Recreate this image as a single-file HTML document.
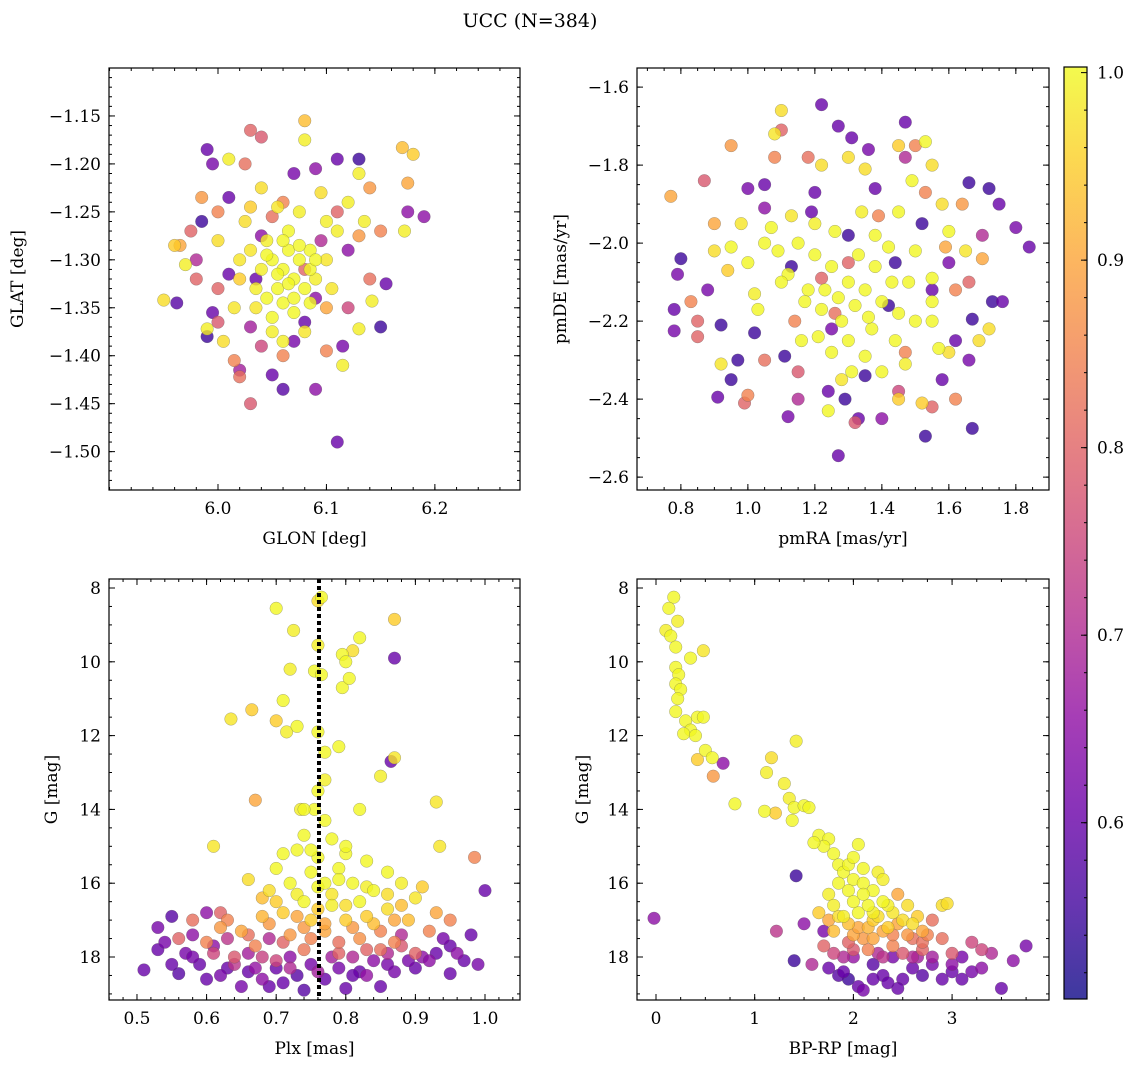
<!DOCTYPE html>
<html><head><meta charset="utf-8"><title>UCC (N=384)</title>
<style>
html,body{margin:0;padding:0;background:#fff;}
svg{display:block;font-family:"DejaVu Serif","Liberation Serif",serif;}
</style></head>
<body>
<svg id="fig" width="1136" height="1067" viewBox="0 0 1136 1067" xmlns="http://www.w3.org/2000/svg">
<rect width="1136" height="1067" fill="#fff"/>
<text x="530" y="27" font-size="19" text-anchor="middle">UCC (N=384)</text>
</svg>
<script>
// ---------- Panel 1: GLON vs GLAT ----------
const p1Glon=[5.99,5.995,6.01,5.985,5.99,5.995,5.962,6.13,6.11,6.07,6.09,6.15,6.155,6.11,6.09,6.05,6.06,6.02,6.115,6.175,6.19,6.08,6.035,6.04,6.095,6.12,6.01,6.03,6.07,6.09,
6.03,6.04,6.025,5.975,5.985,5.98,6.03,6.02,6.1,6.175,6.14,6.15,6.13,6.0,6.06,6.08,6.05,6.12,6.015,6.14,6.0,5.965,
6.08,6.08,6.17,6.18,5.95,5.96,5.97,5.99,6.005,6.01,6.13,6.12,6.135,6.142,6.13,6.115,6.172,
6.05,6.06,6.07,6.065,6.075,6.055,6.045,6.08,6.085,6.06,6.04,6.03,6.07,6.09,6.05,6.1,6.065,6.035,6.02,6.075,6.055,6.1,6.045,6.08,6.06,6.025,6.095,6.11,6.04,6.065,6.085,6.0,6.015,6.105,6.03,
6.055,6.07,6.045,6.085,6.06,6.035,6.09,6.075,6.05,6.02,6.1,6.0,6.11,5.98,6.04,6.06];
const p1Glat=[-1.185,-1.2,-1.235,-1.26,-1.38,-1.355,-1.345,-1.195,-1.195,-1.21,-1.205,-1.37,-1.325,-1.49,-1.435,-1.42,-1.435,-1.415,-1.39,-1.25,-1.255,-1.365,-1.32,-1.275,-1.28,-1.29,-1.315,-1.37,-1.385,-1.34,
-1.165,-1.172,-1.2,-1.27,-1.235,-1.32,-1.45,-1.422,-1.395,-1.22,-1.225,-1.27,-1.275,-1.33,-1.4,-1.31,-1.255,-1.35,-1.405,-1.32,-1.365,-1.285,
-1.155,-1.175,-1.183,-1.19,-1.342,-1.285,-1.305,-1.372,-1.385,-1.195,-1.21,-1.24,-1.26,-1.343,-1.372,-1.41,-1.27,
-1.3,-1.31,-1.32,-1.29,-1.3,-1.33,-1.28,-1.33,-1.29,-1.345,-1.31,-1.29,-1.355,-1.32,-1.36,-1.3,-1.27,-1.33,-1.3,-1.25,-1.245,-1.26,-1.34,-1.375,-1.385,-1.26,-1.23,-1.27,-1.225,-1.325,-1.31,-1.28,-1.35,-1.33,-1.245,
-1.315,-1.34,-1.295,-1.345,-1.28,-1.35,-1.3,-1.285,-1.375,-1.32,-1.35,-1.25,-1.25,-1.3,-1.39,-1.24];
const p1Prob=[.6,.62,.6,.55,.55,.6,.58,.55,.6,.62,.65,.55,.6,.6,.65,.6,.58,.68,.62,.65,.65,.6,.6,.65,.7,.65,.6,.68,.62,.65,
.8,.78,.82,.8,.88,.8,.78,.82,.85,.9,.88,.85,.88,.8,.85,.8,.82,.75,.85,.82,.78,.9,
.93,.99,.93,.95,.97,.95,.99,.99,.97,.99,.99,.99,.99,.99,.99,.99,.99,
1,1,1,1,1,1,.99,1,1,1,.99,.98,1,.99,1,.98,1,.99,.98,.99,.98,.99,1,.98,.99,.97,.97,.99,.97,1,1,.97,.98,.98,.95,
1,1,1,1,1,.98,1,1,.99,.95,.9,.85,.8,.7,.75,.85];

// ---------- Panel 2: pmRA vs pmDE ----------
const p2PmRA=[1.22,1.27,1.31,1.36,1.47,1.66,1.72,1.75,1.8,1.84,1.73,1.76,1.67,1.67,1.53,1.27,1.33,1.29,1.12,0.95,0.91,0.97,1.02,0.92,0.8,0.79,0.78,0.78,1.0,1.05,1.13,1.11,1.24,1.35,1.42,1.55,1.6,1.52,1.44,1.3,1.19,1.25,1.62,1.66,1.2,1.38,1.05,1.58,0.88,
0.77,0.87,0.83,0.85,0.99,1.0,1.15,1.22,1.26,1.32,1.45,1.55,1.62,1.66,1.59,1.64,1.7,1.5,1.18,1.1,0.95,1.47,1.05,1.3,1.39,1.14,1.53,
1.53,1.55,1.49,1.6,1.65,1.55,1.55,1.57,1.6,1.52,1.35,1.24,1.28,1.03,0.95,0.92,0.9,1.08,1.1,1.3,1.45,1.72,1.69,1.35,1.22,
1.15,1.2,1.25,1.3,1.35,1.4,1.45,1.18,1.22,1.28,1.33,1.38,1.42,1.48,1.12,1.07,1.0,1.02,1.3,1.37,1.44,1.5,1.26,1.2,1.34,1.45,1.5,1.16,1.1,1.4,1.25,0.98,1.05,1.23,1.32,
1.17,1.27,1.36,1.43,1.21,1.09,1.31,1.47,1.55,1.13,1.38,0.85,0.9,1.62,1.7,1.15,1.4,1.47,1.08,0.94,1.58,1.45];
const p2PmDE=[-1.645,-1.7,-1.73,-1.76,-1.69,-1.845,-1.86,-1.9,-1.96,-2.01,-2.15,-2.15,-2.195,-2.475,-2.495,-2.545,-2.45,-2.4,-2.445,-2.35,-2.395,-2.3,-2.23,-2.21,-2.04,-2.08,-2.17,-2.225,-1.86,-1.85,-2.06,-2.29,-2.38,-2.34,-2.16,-2.12,-2.05,-1.95,-2.05,-1.98,-1.92,-2.22,-2.25,-2.3,-1.87,-1.86,-1.91,-2.35,-2.12,
-1.88,-1.84,-2.15,-2.24,-2.41,-2.39,-2.33,-2.09,-2.18,-2.46,-2.38,-2.42,-2.4,-2.1,-2.01,-1.9,-2.04,-1.75,-1.78,-1.71,-1.75,-2.28,-2.3,-2.05,-1.93,-2.2,-1.87,
-1.74,-1.8,-1.84,-1.97,-2.02,-2.09,-2.2,-2.27,-2.28,-2.41,-2.29,-2.43,-2.35,-2.17,-2.01,-2.31,-2.02,-1.72,-1.66,-1.78,-1.75,-2.22,-2.25,-1.81,-1.8,
-2.0,-2.03,-2.06,-2.1,-2.12,-2.15,-2.18,-2.12,-2.17,-2.2,-2.03,-2.06,-2.01,-2.1,-2.08,-1.96,-2.05,-2.13,-2.25,-2.22,-2.25,-2.2,-1.97,-1.95,-1.92,-1.92,-2.02,-2.25,-2.1,-2.33,-2.28,-1.95,-2.0,-2.12,-2.16,
-2.15,-2.14,-2.19,-2.1,-2.24,-2.02,-2.33,-2.31,-2.15,-1.93,-1.98,-2.2,-1.95,-2.12,-1.98,-2.4,-2.45,-1.78,-1.78,-2.07,-1.9,-2.4];
const p2Prob=[.6,.6,.6,.62,.6,.55,.55,.6,.62,.6,.55,.6,.55,.55,.55,.6,.6,.55,.62,.55,.6,.55,.55,.55,.55,.62,.6,.62,.62,.6,.55,.55,.6,.55,.55,.6,.62,.55,.55,.55,.6,.62,.6,.62,.6,.6,.65,.6,.62,
.9,.78,.85,.8,.8,.85,.78,.8,.82,.78,.75,.8,.85,.8,.9,.88,.9,.85,.82,.8,.88,.85,.82,.8,.85,.85,.85,
1,.97,1,1,.98,1,1,1,.97,.95,1,1,.98,1,1,.98,.97,.98,.97,.97,.95,.97,.97,.97,.97,
1,1,1,1,1,1,1,1,1,1,1,1,1,1,1,1,1,.99,1,1,1,1,1,.99,.99,1,1,1,1,1,1,.98,1,1,1,
1,1,1,1,1,1,1,.99,1,.98,1,.8,.9,.85,.7,.7,.65,.7,.85,.95,.97,.95];

// ---------- Panel 3: Plx vs G ----------
const p3Plx=[0.70,0.76,0.765,0.87,0.725,0.76,0.795,0.81,0.82,0.80,0.755,0.72,0.765,0.795,0.805,0.71,0.635,0.665,0.70,0.715,0.73,0.76,0.79,0.77,0.87,0.85,0.77,0.76,0.735,0.755,0.77,0.82,0.93,0.67,0.61,0.935,0.985,0.865,0.87,1.0,0.98,0.95,0.99,0.95,
0.74,0.78,0.73,0.76,0.80,0.70,0.75,0.79,0.83,0.86,0.72,0.76,0.81,0.84,0.69,0.88,0.90,0.66,0.74,0.78,0.82,0.86,0.71,0.75,0.80,0.84,0.89,0.68,0.65,0.62,0.93,0.77,0.72,0.82,0.87,0.60,0.56,0.58,0.92,0.95,0.67,0.74,0.79,0.85,0.90,0.64,0.70,0.62,0.86,0.71,0.83,
0.51,0.53,0.55,0.56,0.57,0.59,0.60,0.61,0.63,0.65,0.66,0.68,0.70,0.71,0.73,0.75,0.77,0.79,0.80,0.82,0.84,0.85,0.87,0.89,0.91,0.93,0.72,0.78,0.66,0.54,0.58,0.88,0.69,0.76,0.83,0.62,0.97,
0.63,0.66,0.69,0.71,0.73,0.75,0.77,0.79,0.81,0.83,0.85,0.87,0.88,0.61,0.64,0.68,0.72,0.74,0.76,0.78,0.80,0.73,0.70,0.83,0.79,0.75,0.74,0.8,0.77,0.68,0.88,0.91,0.58,0.6,0.69,0.74,0.81,0.86,0.9,0.94,0.53,0.63,0.67,0.81,0.86,0.92,0.96,0.55];
const p3G=[8.55,8.35,8.25,8.85,9.15,9.55,9.8,9.7,9.35,10.0,10.25,10.2,10.35,10.7,10.45,11.05,11.55,11.3,11.6,11.9,11.75,11.9,12.3,12.45,12.6,13.1,13.2,13.5,14.0,14.0,14.3,14.0,13.8,13.75,15.0,15.0,15.3,12.7,9.9,16.2,17.4,17.7,18.2,18.45,
14.7,14.8,15.1,15.3,15.2,15.6,15.7,15.6,15.4,15.7,16.0,16.1,16.0,16.2,16.2,16.0,16.4,15.9,16.5,16.6,16.5,16.7,16.8,17.0,17.0,17.1,17.0,16.9,17.3,17.2,16.8,17.3,17.4,17.5,17.6,17.6,17.5,17.0,17.3,17.0,17.7,17.8,17.9,17.8,17.9,18.0,18.1,16.8,16.3,15.2,16.9,
18.35,17.2,16.9,18.45,17.9,18.2,16.8,17.7,18.3,18.8,18.4,18.6,18.3,18.7,18.5,18.2,18.6,18.3,18.85,18.4,18.1,18.8,18.4,18.1,18.0,17.9,18.0,18.0,17.9,17.6,17.4,17.4,17.5,18.4,18.5,18.5,18.1,
17.0,17.4,17.1,17.6,16.9,17.5,17.1,17.6,17.2,17.8,17.3,17.0,17.7,17.9,18.2,18.0,18.3,17.2,16.7,16.3,16.6,16.3,16.5,16.1,15.9,15.1,14.0,15.0,16.0,16.4,16.6,16.1,18.0,18.6,18.8,18.9,18.5,18.2,18.3,17.5,17.8,17.5,18.3,18.0,17.9,18.1,17.9,18.2];
const p3Prob=[1,.97,1,.95,.99,.99,1,.97,1,1,1,.99,1,1,1,1,.98,.95,.95,.99,1,1,1,1,.98,.99,.99,1,.99,1,1,1,.98,.9,.98,.98,.85,.6,.6,.6,.6,.6,.62,.6,
1,1,1,1,1,1,1,1,1,1,1,1,1,1,.97,.99,.98,.97,1,.99,1,.97,.95,.95,.95,.93,.93,.92,.9,.88,.9,.9,.88,.87,.85,.85,.8,.82,.85,.85,.85,.83,.8,.82,.8,.78,.75,.8,.97,1,.95,
.6,.62,.58,.58,.62,.6,.65,.65,.6,.62,.6,.65,.6,.6,.58,.62,.6,.62,.6,.6,.65,.6,.62,.62,.65,.6,.65,.68,.68,.62,.65,.7,.7,.68,.66,.62,.6,
.85,.82,.88,.8,.9,.85,.9,.82,.88,.8,.85,.9,.78,.75,.72,.74,.7,.88,.95,.98,.97,.99,.95,.99,1,1,1,1,1,.93,.93,.95,.62,.6,.6,.58,.6,.62,.6,.62,.6,.72,.66,.7,.7,.65,.65,.6];
const p3PlxMean=[0.7615];

// ---------- Panel 4: BP-RP vs G ----------
const p4Color=[0.18,0.13,0.22,0.1,0.15,0.2,0.35,0.48,0.2,0.23,0.2,0.25,0.22,0.2,0.3,0.35,0.28,0.42,0.48,0.4,0.5,0.42,0.57,0.58,0.68,0.8,1.17,1.12,1.42,1.21,1.1,1.3,1.35,1.4,1.5,1.55,1.38,1.65,1.75,1.7,1.8,1.85,1.9,2.05,2.0,1.95,2.1,2.2,2.15,2.3,2.05,2.4,2.5,2.35,2.6,1.9,1.8,2.0,2.2,2.7,2.9,2.95,2.65,2.8,1.75,1.85,2.25,2.45,2.55,2.15,1.95,2.4,2.7,2.9,3.0,3.2,
1.42,1.22,-0.02,1.4,1.58,1.75,1.9,1.95,2.05,2.2,2.3,2.4,2.5,2.6,2.7,2.8,2.9,3.0,3.1,3.3,3.4,3.5,3.62,3.75,2.1,2.45,1.7,1.5,2.0,2.25,2.65,3.2,
1.8,1.85,1.95,2.05,2.1,2.2,2.3,2.25,2.4,2.45,2.55,2.6,2.7,2.5,2.3,2.0,1.9,1.8,1.7,1.75,1.65,2.0,2.1,1.95,2.0,2.1,2.3,2.2,1.6,2.6,2.8,3.0,3.1,2.35,2.2,1.85,2.75,3.3,2.15,2.35];
const p4G=[8.25,8.55,8.9,9.15,9.3,9.6,9.9,9.7,10.15,10.35,10.6,10.75,11.0,11.35,11.6,11.85,11.95,11.5,11.5,12.0,12.4,12.65,12.6,13.1,12.75,13.85,12.6,13.0,12.15,14.1,14.05,13.3,13.7,13.95,13.9,13.95,14.3,14.7,14.8,15.0,15.2,15.5,15.7,14.95,15.9,16.2,16.0,16.2,16.6,16.5,16.8,16.8,17.0,17.2,17.1,16.9,17.3,17.4,17.5,17.3,16.6,16.55,16.9,17.0,16.3,16.0,15.7,16.3,17.4,17.8,17.6,17.7,17.8,17.5,17.9,17.6,
15.8,17.3,16.95,18.1,18.2,18.3,18.4,18.6,18.8,18.2,18.5,18.0,18.6,18.3,18.5,18.2,18.6,18.4,18.0,18.3,17.9,18.85,18.1,17.7,18.9,18.85,17.3,17.1,18.0,17.9,18.0,18.4,
16.6,16.9,17.1,17.2,17.5,17.0,17.3,16.9,17.4,17.1,16.6,17.5,17.6,17.9,18.0,17.8,18.0,17.9,17.7,17.0,16.8,16.5,16.3,15.5,15.3,15.6,15.9,16.8,14.9,18.0,18.0,18.2,18.6,18.7,18.6,18.5,17.4,17.8,17.2,16.6];
const p4Prob=[1,1,.99,.99,1,1,1,.98,1,1,1,1,1,1,1,1,1,1,1,1,1,.95,1,.88,.65,1,.97,.99,.99,.95,1,.99,.99,1,1,1,1,1,1,1,1,1,1,1,1,1,1,1,1,1,1,.98,.97,.95,.97,.99,.93,.9,.9,.9,.97,.97,.95,.82,.99,1,.99,.9,.88,.85,.8,.85,.8,.82,.78,.75,
.55,.72,.65,.55,.7,.6,.6,.55,.6,.58,.6,.62,.6,.6,.58,.62,.6,.6,.62,.65,.7,.6,.65,.62,.62,.6,.62,.65,.66,.7,.68,.62,
.99,.97,.93,.9,.88,.95,.9,.97,.85,.9,.97,.82,.82,.78,.72,.78,.7,.75,.8,.9,.95,1,1,1,1,1,.99,.99,1,.7,.68,.65,.6,.6,.6,.58,.85,.75,.92,.99];

// ---------- Colorbar ----------
const cbTicks=[0.6,0.7,0.8,0.9,1.0];
const cbRange=[0.506,1.003];

const NS="http://www.w3.org/2000/svg";
const svg=document.getElementById('fig');
const plasma=[[0,"#0d0887"],[0.1,"#41049d"],[0.2,"#6a00a8"],[0.3,"#8f0da4"],[0.4,"#b12a90"],[0.5,"#cc4778"],[0.6,"#e16462"],[0.7,"#f2844b"],[0.8,"#fca636"],[0.9,"#fcce25"],[1,"#f0f921"]];
function hex(h){return [1,3,5].map(i=>parseInt(h.substr(i,2),16));}
function cmap(t){t=Math.max(0,Math.min(1,t));for(let i=1;i<plasma.length;i++){if(t<=plasma[i][0]){const a=plasma[i-1],b=plasma[i];const f=(t-a[0])/(b[0]-a[0]);const ca=hex(a[1]),cb=hex(b[1]);return 'rgb('+ca.map((v,k)=>Math.round(v+(cb[k]-v)*f)).join(',')+')';}}return plasma[10][1];}
function norm(p){return (p-cbRange[0])/(cbRange[1]-cbRange[0]);}
function mk(tag,attrs,parent){const e=document.createElementNS(NS,tag);for(const k in attrs)e.setAttribute(k,attrs[k]);(parent||svg).appendChild(e);return e;}
function fmt(v,d){const s=Math.abs(v).toFixed(d);return (v<-1e-9?'\u2212':'')+s;}

function panel(c){
  const g=mk('g',{});
  
  
  const sx=v=>c.L+(v-c.x0)/(c.x1-c.x0)*(c.R-c.L);
  const sy=v=>c.T+(v-c.y0)/(c.y1-c.y0)*(c.B-c.T);
  const cid='clip-'+c.name;
  const cp=mk('clipPath',{id:cid},g);mk('rect',{x:c.L,y:c.T,width:c.R-c.L,height:c.B-c.T},cp);
  const pts=mk('g',{'clip-path':'url(#'+cid+')'},g);
  
  
  const idx=c.xs.map((_,i)=>i).sort((a,b)=>c.ps[a]-c.ps[b]);
  idx.forEach(i=>{
    const e=mk('circle',{cx:sx(c.xs[i]),cy:sy(c.ys[i]),r:6.3,fill:cmap(norm(c.ps[i])),'fill-opacity':0.8,stroke:'#555','stroke-width':0.5,'stroke-opacity':0.5},pts);
    
    
  });
  if(c.vline){c.vline.forEach(v=>{const l=mk('line',{x1:sx(v),x2:sx(v),y1:c.T,y2:c.B,stroke:'#000','stroke-width':4,'stroke-dasharray':'4 3'},g);
    
    });}
  mk('rect',{x:c.L,y:c.T,width:c.R-c.L,height:c.B-c.T,fill:'none',stroke:'#000','stroke-width':1.2},g);
  const tk=mk('g',{stroke:'#000','stroke-width':1},g);
  const eps=1e-9;
  for(let v=Math.ceil(c.x0/c.xm)*c.xm;v<=c.x1+eps;v+=c.xm){const x=sx(v);mk('line',{x1:x,x2:x,y1:c.B,y2:c.B-3},tk);mk('line',{x1:x,x2:x,y1:c.T,y2:c.T+3},tk);}
  for(let v=Math.ceil(Math.min(c.y0,c.y1)/c.ym)*c.ym;v<=Math.max(c.y0,c.y1)+eps;v+=c.ym){const y=sy(v);mk('line',{x1:c.L,x2:c.L+3,y1:y,y2:y},tk);mk('line',{x1:c.R,x2:c.R-3,y1:y,y2:y},tk);}
  c.xt.forEach(v=>{const x=sx(v);mk('line',{x1:x,x2:x,y1:c.B,y2:c.B-6},tk);mk('line',{x1:x,x2:x,y1:c.T,y2:c.T+6},tk);
    const t=mk('text',{x:x,y:c.B+24,'font-size':17,'text-anchor':'middle'},g);t.textContent=fmt(v,c.xd);
    
    });
  c.yt.forEach(v=>{const y=sy(v);mk('line',{x1:c.L,x2:c.L+6,y1:y,y2:y},tk);mk('line',{x1:c.R,x2:c.R-6,y1:y,y2:y},tk);
    const t=mk('text',{x:c.L-8,y:y+6,'font-size':17,'text-anchor':'end'},g);t.textContent=fmt(v,c.yd);
    
    });
  const xl=mk('text',{x:(c.L+c.R)/2,y:c.B+54,'font-size':17,'text-anchor':'middle'},g);xl.textContent=c.xlabel;
  
  
  const yl=mk('text',{x:0,y:0,'font-size':17,'text-anchor':'middle',transform:'translate('+c.ylx+','+(c.T+c.B)/2+') rotate(-90)'},g);yl.textContent=c.ylabel;
  
  
}
const rng=(a,b,s)=>{const r=[];for(let v=a;v<=b+1e-9;v+=s)r.push(+v.toFixed(4));return r;};
panel({name:'glon-glat-panel',L:109,R:520,T:68,B:490,x0:5.8995,x1:6.2785,y0:-1.10,y1:-1.54,xt:[6.0,6.1,6.2],xm:0.02,xd:1,yt:rng(-1.5,-1.15,0.05),ym:0.01,yd:2,xlabel:'GLON [deg]',ylabel:'GLAT [deg]',ylx:23,xs:p1Glon,ys:p1Glat,ps:p1Prob});
panel({name:'pm-panel',L:637,R:1049,T:68,B:490,x0:0.669,x1:1.899,y0:-1.551,y1:-2.633,xt:rng(0.8,1.8,0.2),xm:0.05,xd:1,yt:rng(-2.6,-1.6,0.2),ym:0.05,yd:1,xlabel:'pmRA [mas/yr]',ylabel:'pmDE [mas/yr]',ylx:566,xs:p2PmRA,ys:p2PmDE,ps:p2Prob});
panel({name:'plx-g-panel',L:109,R:520,T:579,B:1000,x0:0.4598,x1:1.0503,y0:7.756,y1:19.165,xt:rng(0.5,1.0,0.1),xm:0.02,xd:1,yt:rng(8,18,2),ym:0.5,yd:0,xlabel:'Plx [mas]',ylabel:'G [mag]',ylx:57,xs:p3Plx,ys:p3G,ps:p3Prob,vline:p3PlxMean});
panel({name:'cmd-panel',L:637,R:1049,T:579,B:1000,x0:-0.1925,x1:3.982,y0:7.756,y1:19.165,xt:[0,1,2,3],xm:0.25,xd:0,yt:rng(8,18,2),ym:0.5,yd:0,xlabel:'BP-RP [mag]',ylabel:'G [mag]',ylx:588,xs:p4Color,ys:p4G,ps:p4Prob});

(function(){
  const L=1064,R=1087,T=67,B=999;
  const defs=mk('defs',{});
  const gr=mk('linearGradient',{id:'cbg',x1:0,y1:1,x2:0,y2:0},defs);
  plasma.forEach(s=>mk('stop',{offset:s[0],'stop-color':s[1]},gr));
  const g=mk('g',{});
  
  
  mk('rect',{x:L,y:T,width:R-L,height:B-T,fill:'url(#cbg)','fill-opacity':0.8},g);
  mk('rect',{x:L,y:T,width:R-L,height:B-T,fill:'none',stroke:'#000','stroke-width':1.2},g);
  const sy=v=>B-(v-cbRange[0])/(cbRange[1]-cbRange[0])*(B-T);
  for(let v=0.52;v<=1.0;v+=0.02){const y=sy(v);mk('line',{x1:R,x2:R-3,y1:y,y2:y,stroke:'#000'},g);}
  cbTicks.forEach(v=>{const y=sy(v);mk('line',{x1:R,x2:R-6,y1:y,y2:y,stroke:'#000'},g);
    const t=mk('text',{x:R+10,y:y+6,'font-size':17},g);t.textContent=v.toFixed(1);
    
    });
})();
</script>
</body></html>
